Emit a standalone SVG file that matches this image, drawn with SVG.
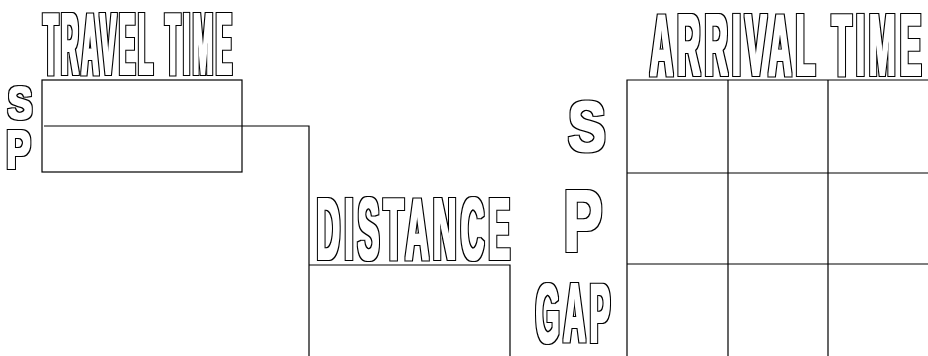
<svg xmlns="http://www.w3.org/2000/svg" width="928" height="356" viewBox="0 0 928 356">
<style>
.t{font-family:"Liberation Sans",Arial,sans-serif;font-weight:bold;fill:#000;filter:url(#hollow);}
.w{letter-spacing:0.135em;}
.l{fill:none;stroke:#000;stroke-width:1.2;}
</style>
<defs>
<filter id="hollow" x="-10%" y="-10%" width="120%" height="120%">
<feMorphology in="SourceAlpha" operator="dilate" radius="2" result="a"/>
<feMorphology in="SourceAlpha" operator="dilate" radius="1" result="b"/>
<feComposite in="a" in2="b" operator="out"/>
</filter>
</defs>
<rect width="928" height="356" fill="#fff"/>
<g id="travel-time">
<text class="t w" x="43.5" y="74" font-size="87" textLength="191.6" lengthAdjust="spacingAndGlyphs">TRAVEL TIME</text>
<rect x="42" y="80" width="200" height="92" fill="#fff" stroke="#000" stroke-width="1.2"/>
<text class="t" x="7.7" y="118.5" font-size="46" textLength="24.5" lengthAdjust="spacingAndGlyphs">S</text>
<text class="t" x="6.3" y="168" font-size="53" textLength="24.4" lengthAdjust="spacingAndGlyphs">P</text>
</g>
<g id="distance">
<text class="t w" x="316.8" y="259" font-size="87" textLength="197.6" lengthAdjust="spacingAndGlyphs">DISTANCE</text>
<path class="l" d="M309 265 H510 V356"/>
</g>
<g id="arrival-time">
<text class="t w" x="650" y="75" font-size="87" textLength="275.5" lengthAdjust="spacingAndGlyphs">ARRIVAL TIME</text>
<path class="l" d="M627 356 V80 H928 M627 173 H928 M627 264 H928 M728 80 V356 M828 80 V356"/>
<text class="t" x="568" y="151" font-size="70" textLength="37.8" lengthAdjust="spacingAndGlyphs">S</text>
<text class="t" x="563.6" y="251" font-size="87" textLength="38.9" lengthAdjust="spacingAndGlyphs">P</text>
<text class="t w" x="535.8" y="342" font-size="83" textLength="78.4" lengthAdjust="spacingAndGlyphs">GAP</text>
</g>
<g id="connectors">
<path class="l" d="M44 126 H309 V356"/>
</g>
</svg>
